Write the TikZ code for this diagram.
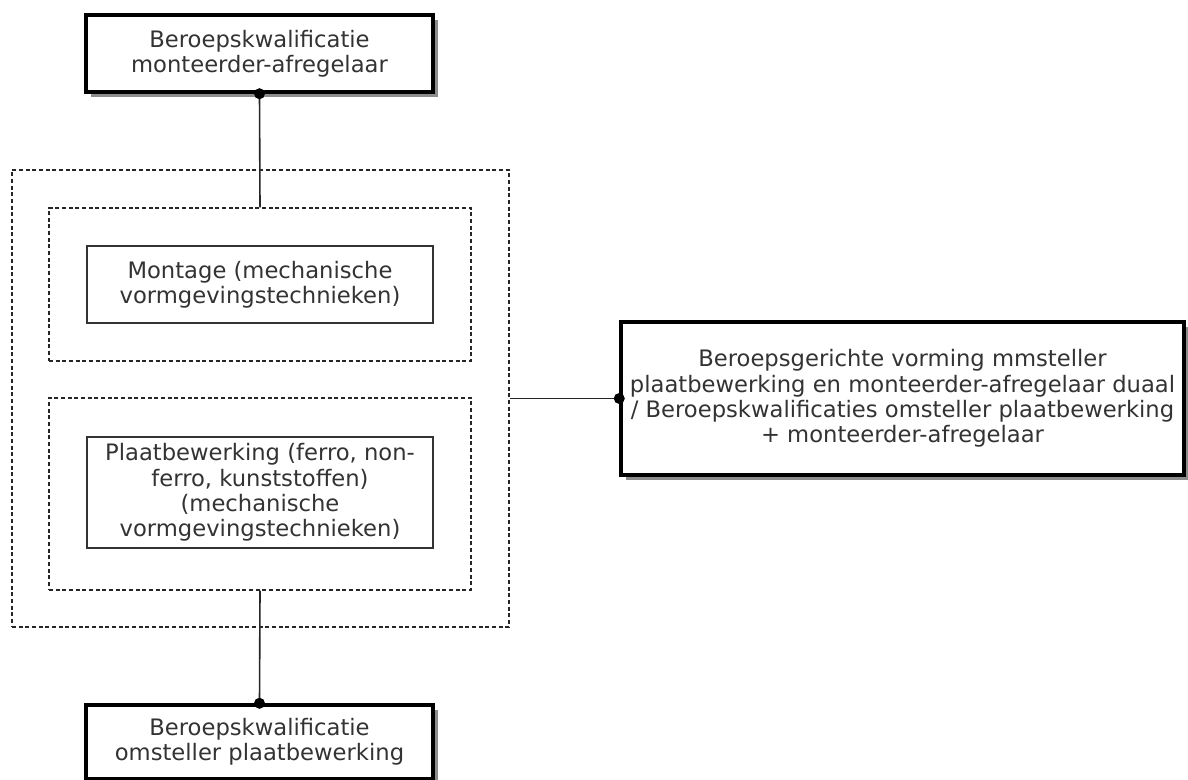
\documentclass[tikz,border=0pt]{standalone}
\usepackage{fontspec}
\setmainfont{DejaVu Sans}
\usetikzlibrary{shadows}

\tikzset{
    kwalbox/.style={draw=black, line width=2.6pt, fill=white, align=center,
        drop shadow={shadow xshift=3.5pt, shadow yshift=-3.5pt, fill=black!45, opacity=1}},
    modbox/.style={draw=black!80, line width=1.2pt, fill=white, align=center},
    groupbox/.style={draw=black!85, line width=1pt, dash pattern=on 3pt off 2pt},
    link/.style={draw=black!85, line width=1.2pt},
}

\begin{document}
\begin{tikzpicture}[x=0.75pt, y=-0.75pt, font=\fontsize{17}{19}\selectfont, text=black!80]
    \useasboundingbox (0,0) rectangle (1188,780);

    % Groups (dashed)
    \node[groupbox, minimum width=372.75pt, minimum height=342.75pt] (outer) at (260.5,398.5) {};
    \node[groupbox, minimum width=316.5pt, minimum height=114.75pt] (groupA) at (260,284.5) {};
    \node[groupbox, minimum width=316.5pt, minimum height=144pt] (groupB) at (260,494) {};

    % Modules
    \node[modbox, minimum width=259.5pt, minimum height=57.75pt] (montage) at (260,284.5)
        {Montage (mechanische\\vormgevingstechnieken)};
    \node[modbox, minimum width=259.5pt, minimum height=83.25pt] (plaat) at (260,492.5)
        {Plaatbewerking (ferro, non-\\ferro, kunststoffen)\\(mechanische\\vormgevingstechnieken)};

    % Qualifications
    \node[kwalbox, minimum width=260.25pt, minimum height=57.75pt] (kwalTop) at (259.5,53.5)
        {Beroepskwalificatie\\monteerder-afregelaar};
    \node[kwalbox, minimum width=260.25pt, minimum height=55.5pt] (kwalBottom) at (259.5,742)
        {Beroepskwalificatie\\omsteller plaatbewerking};
    \node[kwalbox, minimum width=422.25pt, minimum height=114.75pt] (duaal) at (902.5,398.5)
        {Beroepsgerichte vorming mmsteller\\plaatbewerking en monteerder-afregelaar duaal\\/ Beroepskwalificaties omsteller plaatbewerking\\+ monteerder-afregelaar};

    % Connectors
    \draw[link] (kwalTop.south) -- (groupA.north);
    \draw[link] (groupB.south) -- (kwalBottom.north);
    \draw[link] (outer.east) -- (duaal.west);

    % Dots
    \fill (kwalTop.south) circle (5.5);
    \fill (kwalBottom.north) circle (5.5);
    \fill (duaal.west) circle (5.5);
\end{tikzpicture}
\end{document}
